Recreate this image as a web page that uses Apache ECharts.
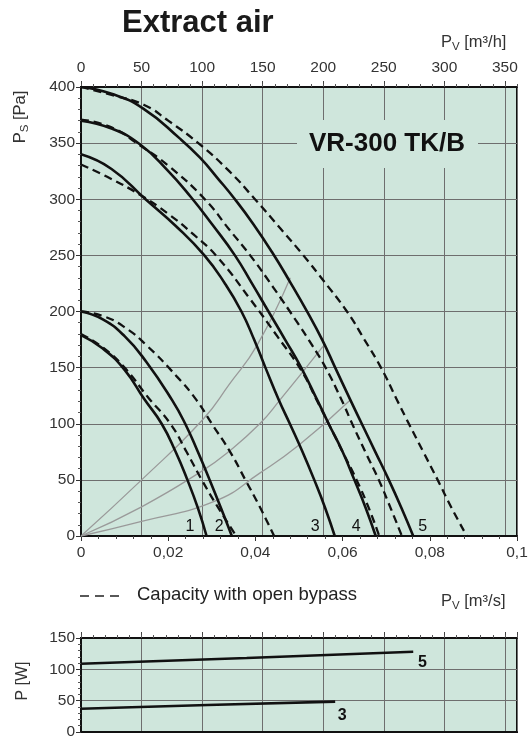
<!DOCTYPE html>
<html><head><meta charset="utf-8">
<script src="https://cdn.jsdelivr.net/npm/echarts@6/dist/echarts.min.js"></script>
<style>html,body{margin:0;padding:0;background:#fff}#c{width:531px;height:740px}</style>
</head><body><div id="c"></div>
<script>
// ---- data (x in m3/s, y in Pa / W) ----
const solid1 = [[0,179],[0.005,167],[0.010,148],[0.0145,122],[0.0185,100],[0.0217,75],[0.0244,50],[0.0268,25],[0.0288,0]];
const solid2 = [[0,200],[0.005,193],[0.010,178],[0.015,155],[0.0209,121],[0.0239,100],[0.0268,75],[0.0295,50],[0.0321,25],[0.0346,0]];
const solid3 = [[0,340],[0.007,327],[0.0148,300],[0.0218,276],[0.0283,250],[0.033,225],[0.0368,200],[0.0397,175],[0.0423,150],[0.0454,121],[0.0479,100],[0.0508,75],[0.0535,50],[0.056,25],[0.0582,0]];
const solid4 = [[0,370],[0.007,363],[0.0135,349],[0.0198,326],[0.0252,302],[0.0302,277],[0.0353,250],[0.0392,225],[0.043,200],[0.0468,175],[0.0505,150],[0.0542,121],[0.0568,100],[0.060,75],[0.0627,50],[0.0653,25],[0.0676,0]];
const solid5 = [[0,400],[0.007,394],[0.0142,381],[0.0227,354],[0.0273,337],[0.0315,318],[0.0353,300],[0.0395,278],[0.0438,253],[0.048,226],[0.052,199],[0.0553,175],[0.0583,150],[0.0618,121],[0.0644,100],[0.0675,75],[0.0706,50],[0.0735,25],[0.0762,0]];
const dashed1 = [[0,180],[0.005,168],[0.010,150],[0.0155,123],[0.0205,100],[0.0242,75],[0.0277,50],[0.0315,25],[0.0356,0]];
const dashed2 = [[0,200],[0.005,196],[0.010,186],[0.015,170],[0.022,142],[0.0265,121],[0.030,100],[0.0342,75],[0.0377,50],[0.041,26],[0.0443,0]];
const dashed3 = [[0,331],[0.006,320],[0.0135,304],[0.020,287],[0.026,268],[0.0314,248],[0.0388,211],[0.045,178],[0.0506,147],[0.0542,120],[0.0568,100],[0.060,75],[0.0632,50],[0.066,25],[0.0684,0]];
const dashed4 = [[0,371],[0.007,364],[0.0135,348],[0.020,330],[0.0284,300],[0.034,273],[0.0388,250],[0.044,222],[0.0493,192],[0.053,170],[0.0561,150],[0.0598,121],[0.0622,100],[0.0652,75],[0.0683,50],[0.071,25],[0.0736,0]];
const dashed5 = [[0,400],[0.007,393],[0.0145,384],[0.020,370],[0.0269,350],[0.034,325],[0.0399,300],[0.0455,275],[0.051,250],[0.0555,228],[0.061,200],[0.065,175],[0.0688,150],[0.0725,121],[0.0752,100],[0.0785,75],[0.0818,50],[0.085,25],[0.0885,0]];
const systemA = [[0,0],[0.0139,50],[0.028,104],[0.034,135],[0.0404,170],[0.048,230]];
const systemB = [[0,0],[0.0139,26],[0.0278,58],[0.0335,74],[0.041,100],[0.0456,121],[0.0555,169]];
const systemC = [[0,0],[0.0139,13],[0.0307,31],[0.041,56],[0.050,81],[0.0617,121]];
const power5 = [[0,109],[0.038,118],[0.0762,128]];
const power3 = [[0,37],[0.029,43],[0.0583,48.5]];
const curveNames = ['1','2','3','4','5'];
const curveNameX = [0.025,0.0317,0.0537,0.0631,0.0784];
const curveNameY = [8,8,8,8,8];
const powerNames = ['5','3'];
const powerNameX = [0.0783,0.0599];
const powerNameY = [111,26];
const flowM3sTicks = [0,0.02,0.04,0.06,0.08,0.1];
const flowM3hTicks = [0,50,100,150,200,250,300,350];

const FONT = 'Liberation Sans, Arial, Helvetica, sans-serif';
const BG = '#cfe6dc';
const GRID = '#6e6e6e';
const solids = [solid1,solid2,solid3,solid4,solid5];
const dashes = [dashed1,dashed2,dashed3,dashed4,dashed5];
const systems = [systemA,systemB,systemC];

const series = [];
systems.forEach(d => series.push({type:'line',xAxisIndex:0,yAxisIndex:0,data:d,symbol:'none',smooth:0.5,
  lineStyle:{color:'#9a9a9a',width:1.3},z:2,silent:true}));
dashes.forEach(d => series.push({name:'Capacity with open bypass',type:'line',xAxisIndex:0,yAxisIndex:0,data:d,symbol:'none',smooth:0.5,
  lineStyle:{color:'#111',width:2.3,type:[8,5]},z:3}));
solids.forEach((d,i) => series.push({name:'curve '+curveNames[i],type:'line',xAxisIndex:0,yAxisIndex:0,data:d,symbol:'none',smooth:0.5,
  lineStyle:{color:'#111',width:2.6},z:4}));
series.push({type:'scatter',xAxisIndex:0,yAxisIndex:0,symbolSize:0,z:5,itemStyle:{opacity:1},
  data:curveNames.map((t,i)=>({name:t,value:[curveNameX[i],curveNameY[i]]})),
  label:{show:true,position:'inside',formatter:'{b}',fontSize:16,color:'#111',fontFamily:FONT}});
[power5,power3].forEach(d => series.push({type:'line',xAxisIndex:2,yAxisIndex:1,data:d,symbol:'none',
  lineStyle:{color:'#111',width:2.6},z:4}));
series.push({type:'scatter',xAxisIndex:2,yAxisIndex:1,symbolSize:0,z:5,itemStyle:{opacity:1},
  data:powerNames.map((t,i)=>({name:t,value:[powerNameX[i],powerNameY[i]]})),
  label:{show:true,position:'inside',formatter:'{b}',fontSize:16,fontWeight:'bold',color:'#111',fontFamily:FONT}});

const labelStyle = {fontSize:15.5,color:'#333',fontFamily:FONT};
const sub = {a:{fontSize:16.5,fill:'#333',fontFamily:FONT},s:{fontSize:11.5,fill:'#333',fontFamily:FONT,padding:[9,0,0,0]}};
const chart = echarts.init(document.getElementById('c'),null,{renderer:'canvas'});
chart.setOption({
  animation:false,
  backgroundColor:'#fff',
  title:{text:'Extract air',left:117,top:3,textStyle:{fontSize:31,fontWeight:'bold',color:'#1a1a1a',fontFamily:FONT}},
  grid:[
    {left:81,top:87,width:436,height:449,show:true,backgroundColor:BG,borderColor:'#111',borderWidth:2},
    {left:81,top:638,width:436,height:96,show:true,backgroundColor:BG,borderColor:'#111',borderWidth:2}
  ],
  xAxis:[
    {gridIndex:0,type:'value',position:'bottom',min:flowM3sTicks[0],max:flowM3sTicks[flowM3sTicks.length-1],interval:0.02,
      axisLine:{show:true,lineStyle:{color:'#111',width:2}},
      axisTick:{show:true,length:5,lineStyle:{color:'#333'}},
      minorTick:{show:true,splitNumber:5,length:3,lineStyle:{color:'#444'}},
      axisLabel:Object.assign({margin:9,formatter:v=>String(+v.toFixed(3)).replace('.',',')},labelStyle),
      splitLine:{show:false}},
    {gridIndex:0,type:'value',position:'top',min:0,max:360,interval:50,
      axisLine:{show:true,lineStyle:{color:'#111',width:2}},
      axisTick:{show:true,length:6,lineStyle:{color:'#444'}},
      axisLabel:Object.assign({margin:11,showMaxLabel:false,formatter:v=>v>flowM3hTicks[flowM3hTicks.length-1]?'':String(v)},labelStyle),
      splitLine:{show:true,lineStyle:{color:GRID,width:1}}},
    {gridIndex:1,type:'value',position:'bottom',min:0,max:0.1,interval:0.02,
      axisLine:{show:true,lineStyle:{color:'#111',width:2}},axisTick:{show:false},axisLabel:{show:false},splitLine:{show:false}},
    {gridIndex:1,type:'value',position:'top',min:0,max:360,interval:50,
      axisLine:{show:true,lineStyle:{color:'#111',width:2}},
      axisTick:{show:true,length:6,lineStyle:{color:'#444'}},axisLabel:{show:false},
      splitLine:{show:true,lineStyle:{color:GRID,width:1}}},
    {gridIndex:0,type:'value',position:'top',min:0,max:360,interval:10,
      axisLine:{show:false},axisTick:{show:true,length:3,lineStyle:{color:'#555'}},axisLabel:{show:false},splitLine:{show:false}},
    {gridIndex:1,type:'value',position:'top',min:0,max:360,interval:10,
      axisLine:{show:false},axisTick:{show:true,length:3,lineStyle:{color:'#555'}},axisLabel:{show:false},splitLine:{show:false}}
  ],
  yAxis:[
    {gridIndex:0,type:'value',min:0,max:400,interval:50,
      axisLine:{show:true,lineStyle:{color:'#111',width:2}},
      axisTick:{show:true,length:5,lineStyle:{color:'#333'}},
      minorTick:{show:true,splitNumber:5,length:3,lineStyle:{color:'#555'}},
      axisLabel:Object.assign({margin:6},labelStyle),
      splitLine:{show:true,lineStyle:{color:GRID,width:1}}},
    {gridIndex:1,type:'value',min:0,max:150,interval:50,
      axisLine:{show:true,lineStyle:{color:'#111',width:2}},
      axisTick:{show:true,length:5,lineStyle:{color:'#333'}},
      minorTick:{show:true,splitNumber:5,length:3,lineStyle:{color:'#555'}},
      axisLabel:Object.assign({margin:6},labelStyle),
      splitLine:{show:true,lineStyle:{color:GRID,width:1}}}
  ],
  graphic:[
    {type:'rect',z:10,shape:{x:297,y:120,width:181,height:48},style:{fill:BG}},
    {type:'text',z:11,x:387,y:144,style:{text:'VR-300 TK/B',align:'center',verticalAlign:'middle',fontSize:26,fontWeight:'bold',fill:'#111',font:'bold 26px '+FONT}},
    {type:'text',z:11,x:441,y:42,style:{text:'{a|P}{s|V}{a| [m³/h]}',align:'left',verticalAlign:'middle',rich:sub}},
    {type:'text',z:11,x:441,y:601,style:{text:'{a|P}{s|V}{a| [m³/s]}',align:'left',verticalAlign:'middle',rich:sub}},
    {type:'text',z:11,x:20,y:117,rotation:Math.PI/2,style:{text:'{a|P}{s|S}{a| [Pa]}',align:'center',verticalAlign:'middle',rich:sub}},
    {type:'text',z:11,x:23,y:681,rotation:Math.PI/2,style:{text:'P [W]',align:'center',verticalAlign:'middle',fontSize:16,fill:'#333',font:'16px '+FONT}},
    {type:'line',z:11,shape:{x1:80,y1:596,x2:121,y2:596},style:{stroke:'#222',lineWidth:1.5,lineDash:[9,6]}},
    {type:'text',z:11,x:137,y:595,style:{text:'Capacity with open bypass',align:'left',verticalAlign:'middle',fontSize:18.5,fill:'#222',font:'18.5px '+FONT}}
  ],
  series:series
});
</script></body></html>
